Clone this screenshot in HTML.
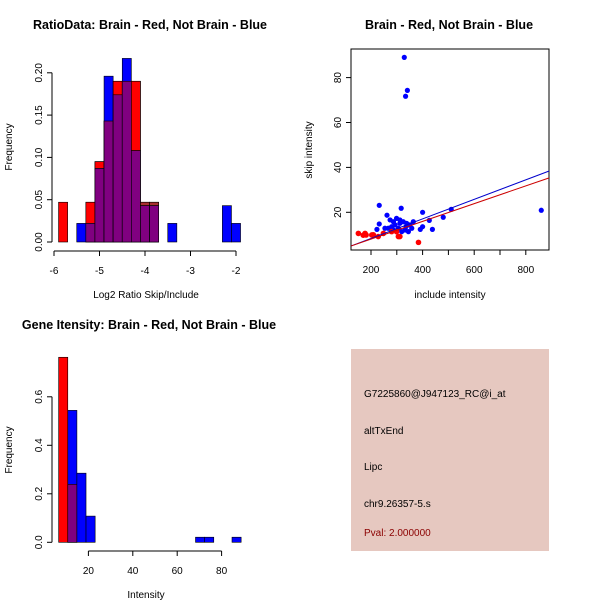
<!DOCTYPE html>
<html><head><meta charset="utf-8"><style>
body{margin:0;background:#fff}
svg{display:block;font-family:"Liberation Sans",sans-serif}
</style></head><body>
<svg id="c" width="600" height="600" viewBox="0 0 600 600">
<rect width="600" height="600" fill="#fff"/>
<text x="150" y="29" font-size="12.5" font-weight="bold" text-anchor="middle">RatioData: Brain - Red, Not Brain - Blue</text>
<text x="449" y="29" font-size="12.5" font-weight="bold" text-anchor="middle">Brain - Red, Not Brain - Blue</text>
<text x="149" y="329" font-size="12.5" font-weight="bold" text-anchor="middle">Gene Itensity: Brain - Red, Not Brain - Blue</text>
<text x="146" y="298" font-size="10" text-anchor="middle">Log2 Ratio Skip/Include</text>
<text x="450" y="298" font-size="10" text-anchor="middle">include intensity</text>
<text x="146" y="598" font-size="10" text-anchor="middle">Intensity</text>
<text transform="translate(12,147) rotate(-90)" font-size="10" text-anchor="middle">Frequency</text>
<text transform="translate(312,150) rotate(-90)" font-size="10" text-anchor="middle">skip intensity</text>
<text transform="translate(12,450) rotate(-90)" font-size="10" text-anchor="middle">Frequency</text>
<g>
<rect x="351" y="349" width="198" height="202" fill="#e6c8c0"/>
<text x="364" y="397" font-size="10">G7225860@J947123_RC@i_at</text>
<text x="364" y="434" font-size="10">altTxEnd</text>
<text x="364" y="470" font-size="10">Lipc</text>
<text x="364" y="507" font-size="10">chr9.26357-5.s</text>
<text x="364" y="536" font-size="10" fill="#8b0000">Pval: 2.000000</text>
</g>
</svg>
<script>
// Histogram 1 data
const ratioBinStarts=[-5.9,-5.7,-5.5,-5.3,-5.1,-4.9,-4.7,-4.5,-4.3,-4.1,-3.9,-3.7,-3.5,-3.3,-3.1,-2.9,-2.7,-2.5,-2.3,-2.1];
const ratioRed=[0.047,0,0,0.047,0.095,0.143,0.19,0.19,0.19,0.047,0.047,0,0,0,0,0,0,0,0,0];
const ratioBlue=[0,0,0.022,0.022,0.087,0.196,0.174,0.217,0.108,0.043,0.043,0,0.022,0,0,0,0,0,0.043,0.022];
const ratioXTicks=[-6,-5,-4,-3,-2];
const ratioYTicks=["0.00","0.05","0.10","0.15","0.20"];
// Scatter data
const blueX=[329,341,334,232,317,400,511,860,480,426,438,391,400,262,232,223,274,287,299,293,280,312,325,338,351,358,332,345,306,319,267,364,299,287,254,312,336];
const blueY=[89,74.3,71.7,23.1,21.8,20,21.3,20.9,17.8,16.4,12.4,12.4,13.6,18.7,14.8,12.4,16.6,15.8,17.3,14.4,13.6,15.1,15.8,15.1,14.4,12.9,12.1,11.4,12.9,11.4,12.9,15.8,11.4,12.1,12.9,16.6,13.6];
const redX=[151,177,181,170,203,228,248,299,306,312,384,280,209];
const redY=[10.6,10.6,9.9,9.8,9.9,9.2,10.6,11.4,9.2,9.2,6.6,11.4,10];
const blueFit=[-0.33,0.0435];
const redFit=[0.16,0.0395];
const scatterXTicks=[200,400,600,800];
const scatterYTicks=[20,40,60,80];
// Histogram 2 data
const intBinWidth=4.11;
const intBinStart=6.6;
const intRed=[0.763,0.239,0,0,0,0,0,0,0,0,0,0,0,0,0,0,0,0,0,0];
const intBlue=[0,0.544,0.285,0.108,0,0,0,0,0,0,0,0,0,0,0,0.021,0.021,0,0,0.021];
const intXTicks=[20,40,60,80];
const intYTicks=["0.0","0.2","0.4","0.6"];

const svg=document.getElementById('c');
const NS='http://www.w3.org/2000/svg';
function mk(t,a,p){const e=document.createElementNS(NS,t);for(const k in a)e.setAttribute(k,a[k]);(p||svg).appendChild(e);return e;}

// ---- Histogram 1
const r1x=v=>54+(v+6)*45.5, r1y=v=>242-v*846;
const g1=mk('g',{});


ratioBinStarts.forEach((s,i)=>{
  const x0=r1x(s),w=r1x(s+0.2)-x0,r=ratioRed[i],b=ratioBlue[i],m=Math.min(r,b);
  const redFill=(b>0&&r>b&&r-b<0.005)?'#a83030':'#ff0000';
  if(r>0){const e=mk('rect',{x:x0,y:r1y(r),width:w,height:r1y(0)-r1y(r),fill:redFill,stroke:'#000','stroke-width':0.6},g1);
    }
  if(b>0){const e=mk('rect',{x:x0,y:r1y(b),width:w,height:r1y(0)-r1y(b),fill:'#0000ff',stroke:'#000','stroke-width':0.6},g1);
    }
  if(r>b&&b>0){const e=mk('rect',{x:x0,y:r1y(r),width:w,height:r1y(b)-r1y(r),fill:redFill,stroke:'#000','stroke-width':0.6},g1);
    }
  if(m>0){const e=mk('rect',{x:x0,y:r1y(m),width:w,height:r1y(0)-r1y(m),fill:'#800080',stroke:'#000','stroke-width':0.6},g1);
    }
});
mk('line',{x1:r1x(-6),x2:r1x(-2),y1:251,y2:251,stroke:'#000'});
ratioXTicks.forEach(t=>{mk('line',{x1:r1x(t),x2:r1x(t),y1:251,y2:256,stroke:'#000'});
  const e=mk('text',{x:r1x(t),y:274,'font-size':10,'text-anchor':'middle'});e.textContent=t;
  });
mk('line',{x1:52,x2:52,y1:r1y(0),y2:r1y(0.2),stroke:'#000'});
ratioYTicks.forEach(t=>{const y=r1y(+t);mk('line',{x1:47,x2:52,y1:y,y2:y,stroke:'#000'});
  const e=mk('text',{transform:`translate(42,${y}) rotate(-90)`,'font-size':10,'text-anchor':'middle'});e.textContent=t;
  });

// ---- Scatter
const sx=v=>371+(v-200)*0.258, sy=v=>212.3-(v-20)*2.245;
mk('rect',{x:351,y:49,width:198,height:201,fill:'none',stroke:'#000'});
const cp=mk('clipPath',{id:'cp'});mk('rect',{x:351,y:49,width:198,height:201},cp);
const gs=mk('g',{'clip-path':'url(#cp)'});


blueX.forEach((x,i)=>{const e=mk('circle',{cx:sx(x),cy:sy(blueY[i]),r:2.6,fill:'#0000ff'},gs);
  });
redX.forEach((x,i)=>{const e=mk('circle',{cx:sx(x),cy:sy(redY[i]),r:2.8,fill:'#ff0000'},gs);
  });
[[blueFit,'#0000cc','blue-fit-line'],[redFit,'#cc0000','red-fit-line']].forEach(([f,c,n])=>{
  const e=mk('line',{x1:sx(100),y1:sy(f[0]+f[1]*100),x2:sx(950),y2:sy(f[0]+f[1]*950),stroke:c,'stroke-width':1},gs);
  });
scatterXTicks.forEach(t=>{mk('line',{x1:sx(t),x2:sx(t),y1:250,y2:255,stroke:'#000'});
  const e=mk('text',{x:sx(t),y:273,'font-size':10,'text-anchor':'middle'});e.textContent=t;
  });
[300,500,700].forEach(t=>mk('line',{x1:sx(t),x2:sx(t),y1:250,y2:255,stroke:'#000'}));
scatterYTicks.forEach(t=>{mk('line',{x1:346,x2:351,y1:sy(t),y2:sy(t),stroke:'#000'});
  const e=mk('text',{transform:`translate(341,${sy(t)}) rotate(-90)`,'font-size':10,'text-anchor':'middle'});e.textContent=t;
  });

// ---- Histogram 2
const ix=v=>44+v*2.22, iy=v=>542.3-v*242.5;
const g2=mk('g',{});


intRed.forEach((r,i)=>{
  const s=intBinStart+i*intBinWidth,x0=ix(s),w=ix(s+intBinWidth)-x0,b=intBlue[i],m=Math.min(r,b);
  if(r>0){const e=mk('rect',{x:x0,y:iy(r),width:w,height:iy(0)-iy(r),fill:'#ff0000',stroke:'#000','stroke-width':0.6},g2);
    }
  if(b>0){const e=mk('rect',{x:x0,y:iy(b),width:w,height:iy(0)-iy(b),fill:'#0000ff',stroke:'#000','stroke-width':0.6},g2);
    }
  if(m>0){const e=mk('rect',{x:x0,y:iy(m),width:w,height:iy(0)-iy(m),fill:'#800080',stroke:'#000','stroke-width':0.6},g2);
    }
});
mk('line',{x1:ix(20),x2:ix(80),y1:551,y2:551,stroke:'#000'});
intXTicks.forEach(t=>{mk('line',{x1:ix(t),x2:ix(t),y1:551,y2:556,stroke:'#000'});
  const e=mk('text',{x:ix(t),y:574,'font-size':10,'text-anchor':'middle'});e.textContent=t;
  });
mk('line',{x1:52,x2:52,y1:iy(0),y2:iy(0.6),stroke:'#000'});
intYTicks.forEach(t=>{const y=iy(+t);mk('line',{x1:47,x2:52,y1:y,y2:y,stroke:'#000'});
  const e=mk('text',{transform:`translate(42,${y}) rotate(-90)`,'font-size':10,'text-anchor':'middle'});e.textContent=t;
  });
</script>
</body></html>
